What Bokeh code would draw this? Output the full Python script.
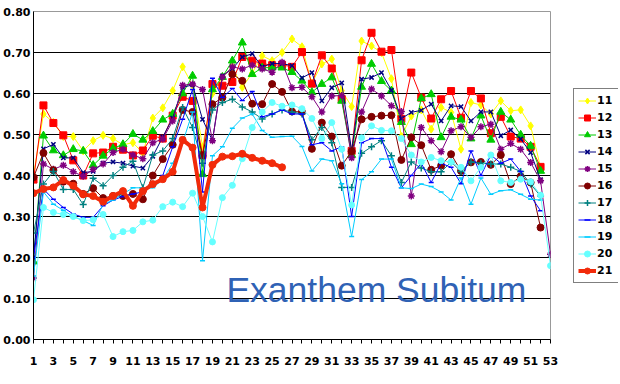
from bokeh.plotting import figure
from bokeh.layouts import row
from bokeh.models import Range1d, FixedTicker, Legend, LegendItem, Label, NumeralTickFormatter, ColumnDataSource
from bokeh.embed import file_html
from bokeh.resources import INLINE

weeks = list(range(1, 54))
week_labels = {w: (str(w) if w % 2 == 1 else "") for w in weeks}
y_ticks = [0.0, 0.1, 0.2, 0.3, 0.4, 0.5, 0.6, 0.7, 0.8]

s11 = [0.40, 0.55, 0.53, 0.495, 0.495, 0.46, 0.485, 0.498, 0.49, 0.475, 0.48, 0.455, 0.54, 0.565, 0.607, 0.665, 0.62, 0.47,
       0.60, 0.64, 0.665, 0.615, 0.65, 0.692, 0.68, 0.70, 0.733, 0.714, 0.625, 0.672, 0.684, 0.607, 0.568, 0.728, 0.716, 0.70,
       0.636, 0.495, 0.545, 0.56, 0.513, 0.566, 0.554, 0.464, 0.578, 0.572, 0.55, 0.582, 0.558, 0.56, 0.521, 0.42]
s12 = [0.39, 0.571, 0.528, 0.498, 0.437, 0.40, 0.454, 0.456, 0.47, 0.463, 0.449, 0.461, 0.497, 0.490, 0.546, 0.592, 0.582, 0.45,
       0.623, 0.619, 0.628, 0.689, 0.68, 0.673, 0.669, 0.67, 0.665, 0.701, 0.624, 0.693, 0.661, 0.586, 0.46, 0.681, 0.748, 0.702,
       0.706, 0.538, 0.651, 0.59, 0.539, 0.586, 0.606, 0.541, 0.606, 0.588, 0.503, 0.543, 0.495, 0.490, 0.47, 0.421]
s13 = [0.19, 0.497, 0.461, 0.449, 0.464, 0.46, 0.425, 0.448, 0.466, 0.476, 0.501, 0.487, 0.508, 0.536, 0.55, 0.60, 0.643, 0.403,
       0.61, 0.64, 0.68, 0.724, 0.647, 0.663, 0.663, 0.663, 0.652, 0.631, 0.603, 0.623, 0.639, 0.582, 0.45, 0.616, 0.672, 0.63,
       0.607, 0.53, 0.476, 0.588, 0.598, 0.493, 0.543, 0.536, 0.490, 0.546, 0.487, 0.555, 0.536, 0.499, 0.472, 0.411]
s14 = [0.20, 0.465, 0.476, 0.443, 0.443, 0.407, 0.41, 0.43, 0.433, 0.43, 0.423, 0.418, 0.447, 0.494, 0.54, 0.615, 0.621, 0.537,
       0.485, 0.643, 0.66, 0.689, 0.697, 0.665, 0.673, 0.673, 0.668, 0.638, 0.651, 0.582, 0.614, 0.626, 0.46, 0.635, 0.639, 0.651,
       0.608, 0.539, 0.554, 0.559, 0.574, 0.533, 0.57, 0.568, 0.533, 0.555, 0.555, 0.497, 0.511, 0.489, 0.456, 0.39]
s15 = [0.15, 0.428, 0.415, 0.425, 0.409, 0.398, 0.415, 0.428, 0.456, 0.464, 0.45, 0.441, 0.48, 0.489, 0.533, 0.62, 0.623, 0.61,
       0.485, 0.64, 0.665, 0.66, 0.669, 0.66, 0.652, 0.676, 0.614, 0.615, 0.592, 0.555, 0.594, 0.595, 0.443, 0.555, 0.611, 0.594,
       0.57, 0.556, 0.35, 0.517, 0.485, 0.458, 0.509, 0.519, 0.493, 0.519, 0.525, 0.464, 0.478, 0.464, 0.432, 0.387, 0.208]
s16 = [0.396, 0.455, 0.413, 0.385, 0.38, 0.355, 0.369, 0.345, 0.35, 0.35, 0.355, 0.342, 0.40, 0.44, 0.475, 0.56, 0.555, 0.448,
       0.574, 0.59, 0.647, 0.631, 0.575, 0.574, 0.623, 0.604, 0.556, 0.555, 0.465, 0.529, 0.495, 0.424, 0.459, 0.537, 0.543, 0.546,
       0.547, 0.438, 0.493, 0.474, 0.414, 0.424, 0.452, 0.411, 0.432, 0.433, 0.426, 0.45, 0.379, 0.398, 0.383, 0.273]
s17 = [0.26, 0.379, 0.41, 0.366, 0.366, 0.329, 0.393, 0.375, 0.40, 0.42, 0.435, 0.37, 0.45, 0.46, 0.49, 0.566, 0.517, 0.43,
       0.56, 0.578, 0.586, 0.567, 0.555, 0.538, 0.55, 0.56, 0.555, 0.55, 0.487, 0.517, 0.48, 0.371, 0.371, 0.454, 0.47, 0.485,
       0.448, 0.383, 0.433, 0.418, 0.409, 0.409, 0.433, 0.41, 0.433, 0.43, 0.428, 0.428, 0.42, 0.41, 0.379, 0.35]
s18 = [0.20, 0.367, 0.342, 0.322, 0.306, 0.298, 0.298, 0.326, 0.34, 0.349, 0.355, 0.36, 0.375, 0.40, 0.47, 0.537, 0.61, 0.36,
       0.637, 0.59, 0.612, 0.583, 0.605, 0.543, 0.55, 0.56, 0.55, 0.55, 0.475, 0.48, 0.46, 0.47, 0.30, 0.48, 0.49, 0.49,
       0.42, 0.37, 0.40, 0.43, 0.383, 0.43, 0.42, 0.38, 0.46, 0.40, 0.45, 0.43, 0.44, 0.41, 0.35, 0.314]
s19 = [0.155, 0.36, 0.33, 0.315, 0.30, 0.29, 0.278, 0.33, 0.34, 0.355, 0.37, 0.37, 0.37, 0.39, 0.43, 0.48, 0.555, 0.192,
       0.448, 0.47, 0.515, 0.54, 0.55, 0.51, 0.493, 0.495, 0.496, 0.471, 0.411, 0.44, 0.436, 0.38, 0.251, 0.39, 0.409, 0.44,
       0.44, 0.37, 0.368, 0.379, 0.373, 0.36, 0.34, 0.394, 0.33, 0.394, 0.354, 0.363, 0.365, 0.354, 0.342, 0.34]
s20 = [0.097, 0.322, 0.31, 0.305, 0.30, 0.29, 0.292, 0.305, 0.251, 0.263, 0.266, 0.287, 0.291, 0.324, 0.335, 0.324, 0.357, 0.30,
       0.238, 0.346, 0.376, 0.441, 0.517, 0.555, 0.578, 0.569, 0.572, 0.563, 0.539, 0.49, 0.529, 0.464, 0.328, 0.492, 0.521, 0.51,
       0.509, 0.49, 0.45, 0.433, 0.444, 0.436, 0.433, 0.42, 0.387, 0.42, 0.45, 0.387, 0.383, 0.391, 0.385, 0.352, 0.18]
s21 = [0.357, 0.367, 0.371, 0.389, 0.375, 0.354, 0.35, 0.336, 0.35, 0.362, 0.326, 0.362, 0.379, 0.391, 0.409, 0.487, 0.468, 0.322,
       0.426, 0.446, 0.447, 0.453, 0.443, 0.436, 0.43, 0.42]

series_names = ["11", "12", "13", "14", "15", "16", "17", "18", "19", "20", "21"]
series_values = [s11, s12, s13, s14, s15, s16, s17, s18, s19, s20, s21]
series_colors = ["#FFFF00", "#FF0000", "#00CC00", "#000080", "#800080", "#800000",
                 "#008080", "#0000FF", "#00CCFF", "#66FFFF", "#F22A0A"]
series_markers = ["diamond", "square", "triangle", "x", "asterisk", "circle",
                  "cross", "dash", "dash", "circle", "circle"]
marker_sizes = [8, 7, 8, 6, 7, 7, 7, 5, 5, 6, 7]
line_widths = [1, 1, 1, 1, 1, 1, 1, 1, 1, 1, 4]

p = figure(width=560, height=370, output_backend="svg", toolbar_location=None,
           x_range=Range1d(1, 53), y_range=Range1d(0, 0.8),
           min_border_left=33, min_border_right=10, min_border_top=11, min_border_bottom=31)
p.background_fill_color = "white"
p.border_fill_color = "white"
p.outline_line_color = "#999999"
p.outline_line_width = 1

p.xgrid.visible = False
p.ygrid.ticker = FixedTicker(ticks=[0.1, 0.2, 0.3, 0.4, 0.5, 0.6, 0.7])
p.ygrid.grid_line_color = "black"
p.ygrid.grid_line_width = 1

p.xaxis.ticker = FixedTicker(ticks=weeks)
p.xaxis.major_label_overrides = week_labels
p.yaxis.ticker = FixedTicker(ticks=y_ticks)
p.yaxis.formatter = NumeralTickFormatter(format="0.00")
for ax in (p.xaxis, p.yaxis):
    ax.axis_line_color = "black"
    ax.axis_line_width = 1
    ax.major_tick_line_color = "black"
    ax.minor_tick_line_color = None
    ax.major_label_text_font = "DejaVu Sans"
    ax.major_label_text_font_style = "bold"
    ax.major_label_text_font_size = "11px"
    ax.major_label_text_color = "black"
p.xaxis.major_tick_out = 4
p.xaxis.major_tick_in = 0
p.xaxis.major_label_standoff = 13
p.yaxis.major_tick_out = 0
p.yaxis.major_tick_in = 0
p.yaxis.major_label_standoff = 3

# legend lives in a narrow companion figure to the right of the plot
lf = figure(width=58, height=370, output_backend="svg", toolbar_location=None,
            x_range=Range1d(0, 1), y_range=Range1d(0, 1),
            x_axis_location=None, y_axis_location=None,
            min_border_left=0, min_border_right=0, min_border_top=0, min_border_bottom=0)
lf.grid.visible = False
lf.outline_line_color = None
lf.background_fill_color = "white"
lf.border_fill_color = "white"

nan = float("nan")
items = []
for name, vals, col, mk, ms, lw in zip(series_names, series_values, series_colors,
                                       series_markers, marker_sizes, line_widths):
    xs = weeks[:len(vals)]
    mlw = 1.5 if mk in ("x", "asterisk", "cross", "dash") else 1
    p.line(xs, vals, line_color=col, line_width=lw)
    p.scatter(xs, vals, marker=mk, size=ms, line_color=col, fill_color=col, line_width=mlw)
    proxy = ColumnDataSource(data=dict(x=[nan], y=[nan]))
    l1 = lf.line("x", "y", source=proxy, line_color=col, line_width=lw)
    l2 = lf.scatter("x", "y", source=proxy, marker=mk, size=ms, line_color=col, fill_color=col, line_width=mlw)
    items.append(LegendItem(label=name, renderers=[l1, l2]))

legend = Legend(items=items, location=(13, 56), orientation="vertical",
                border_line_color="black", border_line_width=1,
                background_fill_color="white", background_fill_alpha=1,
                label_text_font="DejaVu Sans", label_text_font_style="bold",
                label_text_font_size="11px", label_text_color="black",
                glyph_width=18, glyph_height=15, label_height=15, label_standoff=1,
                spacing=2, padding=4, margin=0)
lf.add_layout(legend, "center")

title = Label(x=20.4, y=0.12, text="Exanthem Subitum", text_color="#2F62B5",
              text_font="Liberation Sans", text_font_size="35.5px", text_baseline="alphabetic")
p.add_layout(title)

layout = row(p, lf, spacing=0)
open("out.html", "w").write(file_html(layout, INLINE))
